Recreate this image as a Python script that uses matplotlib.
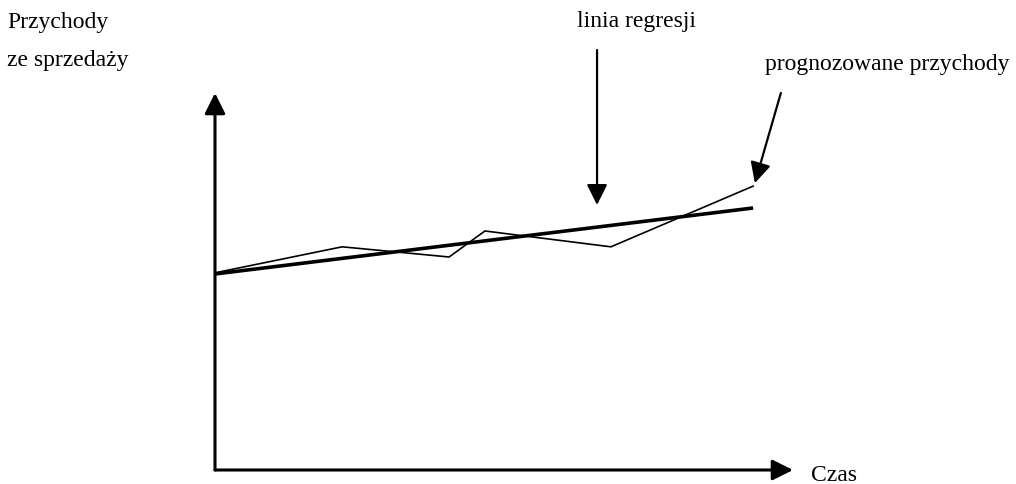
import matplotlib.pyplot as plt

# przychody (cienka linia) i linia regresji, jednostki umowne
czas = [0, 2.2, 4.05, 4.67, 6.85, 9.31]
przychody = [5.23, 5.92, 5.65, 6.34, 5.92, 7.53]
czas_reg = [0, 9.31]
regresja = [5.2, 6.95]

plt.rcParams['font.family'] = ['Liberation Serif', 'DejaVu Serif']
fs = 17

fig = plt.figure(figsize=(10.16, 4.84), dpi=100)
W, H = 1016, 484
ox, oy = 215, 470
ax = fig.add_axes([ox / W, (H - oy) / H, (793 - ox) / W, (oy - 93) / H])
ax.set_xlim(0, 10)
ax.set_ylim(0, 10)
ax.axis('off')

head = dict(arrowstyle='-|>,head_length=1.0,head_width=0.5', mutation_scale=12.5,
            color='black', lw=2.2, shrinkA=0, shrinkB=0)
# osie
ax.annotate('', xy=(0, 1), xytext=(0, 0), xycoords='axes fraction', arrowprops=head)
ax.annotate('', xy=(1, 0), xytext=(0, 0), xycoords='axes fraction', arrowprops=head)

ax.plot(czas, przychody, color='black', lw=1.2, solid_joinstyle='miter')
ax.plot(czas_reg, regresja, color='black', lw=2.6, solid_capstyle='butt')

# strzalki z opisami
arr2 = dict(head, lw=1.6)
ax.annotate('', xy=(6.61, 7.03), xytext=(6.61, 11.14), arrowprops=arr2, annotation_clip=False)
ax.annotate('', xy=(9.34, 7.61), xytext=(9.79, 10.0), arrowprops=arr2, annotation_clip=False)

def px(x, y):
    return x / W, 1 - y / H

fig.text(*px(7, 28), 'Przychody', fontsize=fs, va='baseline', ha='left')
fig.text(*px(7, 66), 'ze sprzedaży', fontsize=fs, va='baseline', ha='left')
fig.text(*px(577, 27), 'linia regresji', fontsize=fs, va='baseline', ha='left')
fig.text(*px(765, 70), 'prognozowane przychody', fontsize=fs, va='baseline', ha='left')
fig.text(*px(811, 481), 'Czas', fontsize=fs, va='baseline', ha='left')

fig.savefig('out.png', dpi=100)
